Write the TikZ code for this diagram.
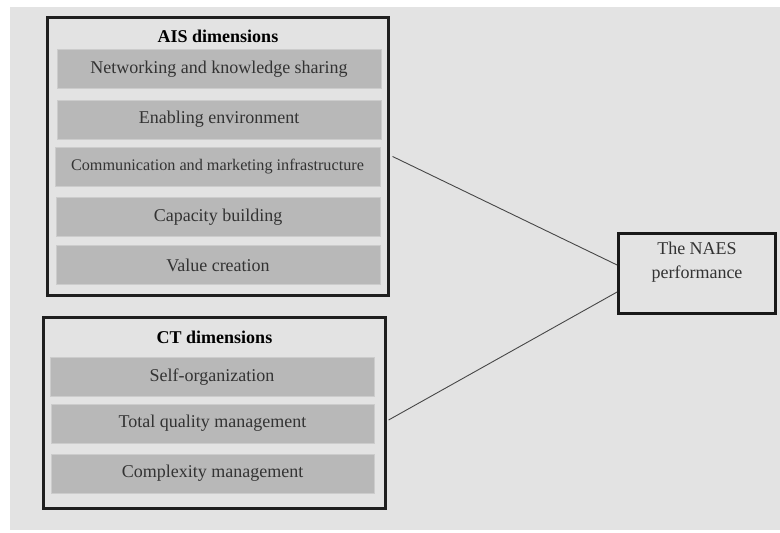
\documentclass[tikz,border=0pt]{standalone}
\usepackage{fontspec}
\setmainfont{Liberation Serif}
\begin{document}
\begin{tikzpicture}[x=1pt,y=-1pt,
  groupbox/.style={draw=black!88, line width=2.2pt, fill=none, inner sep=0pt},
  itembox/.style={draw=black!20, line width=0.8pt, fill=black!28, inner sep=0pt,
    minimum height=39pt, text=black!80, font=\fontsize{18}{21.6}\selectfont},
  grouptitle/.style={inner sep=0pt, font=\fontsize{18}{21.6}\selectfont\bfseries, text=black},
  outcomebox/.style={draw=black!90, line width=2.8pt, inner sep=0pt,
    minimum width=157pt, minimum height=80pt},
  outtext/.style={inner sep=0pt, align=center, text=black!80,
    font=\fontsize{18}{24}\selectfont},
  link/.style={draw=black!72, line width=0.9pt}
]
\useasboundingbox (0,0) rectangle (780,533);
\fill[white] (0,0) rectangle (780,533);
\fill[black!11] (10,7) rectangle (780,530);

% AIS group
\node[groupbox, minimum width=341pt, minimum height=278pt] (ais) at (218,156.5) {};
\node[grouptitle] (aistitle) at (218,36) {AIS dimensions};
\node[itembox, minimum width=324pt] (net) at (219,69) {Networking and knowledge sharing};
\node[itembox, minimum width=324pt] (env) at (219,119.5) {Enabling environment};
\node[itembox, minimum width=325pt, font=\fontsize{16.2}{19}\selectfont] (com) at (217.5,167) {Communication and marketing infrastructure};
\node[itembox, minimum width=324pt] (cap) at (218,217) {Capacity building};
\node[itembox, minimum width=324pt] (val) at (218,265) {Value creation};

% CT group
\node[groupbox, minimum width=342pt, minimum height=191pt] (ct) at (214.5,413) {};
\node[grouptitle] (cttitle) at (214.5,337.5) {CT dimensions};
\node[itembox, minimum width=324pt] (self) at (212,377) {Self-organization};
\node[itembox, minimum width=323pt] (tqm) at (212.5,423.5) {Total quality management};
\node[itembox, minimum width=323pt] (cx) at (212.5,473.5) {Complexity management};

% outcome
\node[outcomebox] (naes) at (697,273.5) {};
\node[outtext, anchor=north] (naestext) at ([yshift=-10pt]naes.north) {The NAES\\performance};

% links
\draw[link] ([xshift=3pt]ais.east) -- ([yshift=8.5pt]naes.west);
\draw[link] ([xshift=2pt,yshift=-7pt]ct.east) -- ([yshift=-18.5pt]naes.west);
\end{tikzpicture}
\end{document}
